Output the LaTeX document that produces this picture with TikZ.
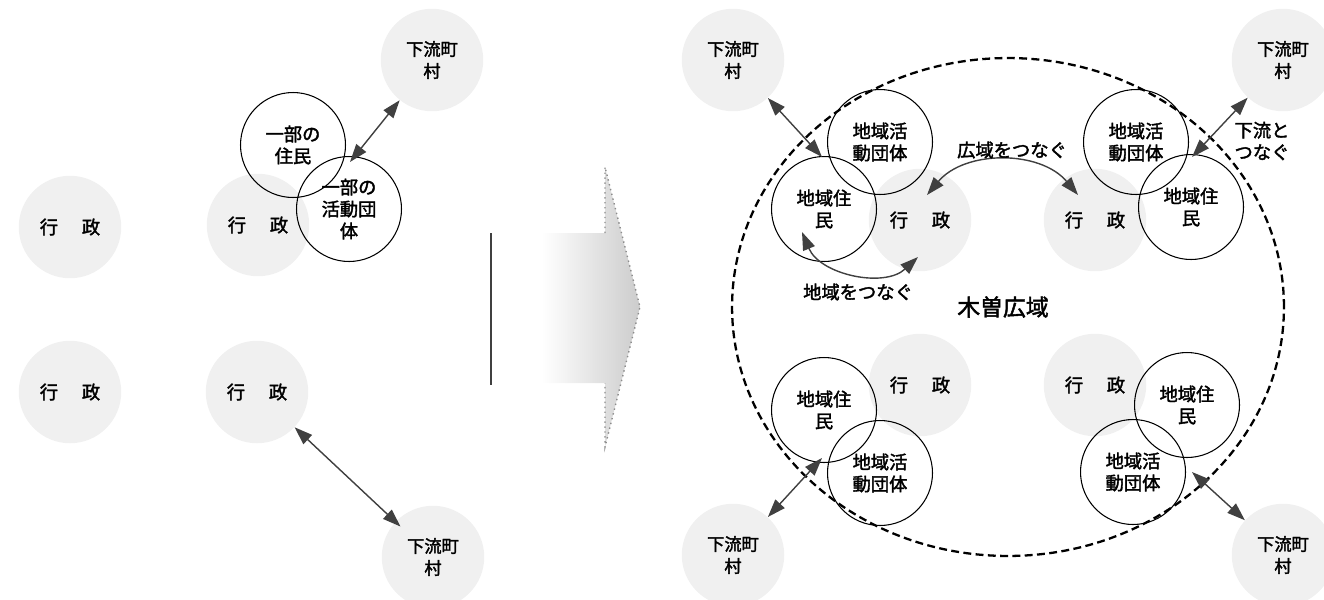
\documentclass[tikz,border=0pt]{standalone}
\usepackage{fontspec}
\newfontfamily\cjk[FakeBold=2]{Noto Sans CJK JP}
\usetikzlibrary{arrows.meta}

\begin{document}
\begin{tikzpicture}[x=0.02cm,y=-0.02cm]
  \tikzstyle{every node}=[font=\cjk\fontsize{10.4}{12.5}\selectfont]
  \tikzstyle{gyosei}=[circle, fill=black!6, minimum size=2.05cm, inner sep=0pt, align=center]
  \tikzstyle{karyu}=[gyosei, font=\cjk\fontsize{9.8}{12.5}\selectfont]
  \tikzstyle{maru}=[circle, draw, line width=0.6pt, minimum size=2.1cm, inner sep=0pt, align=center]
  \tikzstyle{yaji}=[{Triangle[length=3.6mm,width=2.5mm]}-{Triangle[length=3.6mm,width=2.5mm]}, line width=0.8pt, draw=black!75]
  \tikzstyle{moji}=[inner sep=1pt, align=center]

  \useasboundingbox (0,0) rectangle (1324,599);

  \node[gyosei] (gyoseiA) at (70,227) {行\hspace{1.3em}政};
  \node[gyosei] (gyoseiB) at (70,392) {行\hspace{1.3em}政};
  \node[gyosei] (gyoseiC) at (258,225) {行\hspace{1.3em}政};
  \node[gyosei] (gyoseiD) at (257,392) {行\hspace{1.3em}政};
  \node[karyu] (karyuA) at (432,60) {下流町\\村};
  \node[karyu] (karyuB) at (433,557) {下流町\\村};

  \node[maru] (jumin0) at (293,145) {一部の\\住民};
  \node[maru] (dantai0) at (349,209) {一部の\\活動団\\体};
  \coordinate (t0) at (350,162);
  \draw[yaji] (t0) -- (karyuA);
  \draw[yaji, shorten >=-4pt] (gyoseiD) -- (karyuB);

  \draw[line width=1.2pt, black!75] (491,233) -- (491,385);
  \shade[left color=white, right color=black!20] (542,233) -- (605,233) -- (605,167) -- (640,307)
    -- (605,447) -- (605,383) -- (542,383) -- cycle;
  \draw[black!45, line width=0.8pt, dotted] (605,233) -- (605,167) -- (640,307) -- (605,447) -- (605,383);

  \node[gyosei] (gyoseiE) at (920,220) {行\hspace{1.3em}政};
  \node[gyosei] (gyoseiF) at (1095,220) {行\hspace{1.3em}政};
  \node[gyosei] (gyoseiG) at (920,385) {行\hspace{1.3em}政};
  \node[gyosei] (gyoseiH) at (1095,385) {行\hspace{1.3em}政};
  \node[karyu] (karyuC) at (733,60) {下流町\\村};
  \node[karyu] (karyuD) at (1283,60) {下流町\\村};
  \node[karyu] (karyuE) at (733,555) {下流町\\村};
  \node[karyu] (karyuF) at (1283,555) {下流町\\村};

  \draw[line width=1.3pt, dash pattern=on 4.5pt off 2.5pt] (1008,307) ellipse [x radius=5.52cm, y radius=4.98cm];
  \node[font=\cjk\fontsize{13}{15}\selectfont] (kiso) at (1003,307) {木曽広域};

  \node[maru] (jumin1) at (824,209) {地域住\\民};
  \node[maru] (dantai1) at (880,142) {地域活\\動団体};
  \node[maru] (jumin2) at (1191,207) {地域住\\民};
  \node[maru] (dantai2) at (1136,142) {地域活\\動団体};
  \node[maru] (jumin3) at (824,410) {地域住\\民};
  \node[maru] (dantai3) at (880,473) {地域活\\動団体};
  \node[maru] (jumin4) at (1187,405) {地域住\\民};
  \node[maru] (dantai4) at (1133,472) {地域活\\動団体};

  \coordinate (t1) at (822,157);
  \coordinate (t2) at (1192,157);
  \coordinate (t3) at (822,458);
  \coordinate (t4) at (1192,472);
  \draw[yaji] (karyuC) -- (t1);
  \draw[yaji] (karyuD) -- (t2);
  \draw[yaji] (karyuE) -- (t3);
  \draw[yaji] (karyuF) -- (t4);

  \coordinate (kE) at (927,195);
  \coordinate (kF) at (1078,195);
  \draw[yaji] (kE) to[bend left=50] (kF);
  \node[moji] (koiki) at (1012,150) {広域をつなぐ};

  \coordinate (cJ) at (802,232);
  \coordinate (cE) at (918,257);
  \draw[yaji] (cJ) to[bend right=55] (cE);
  \node[moji] (chiiki) at (858,292) {地域をつなぐ};

  \node[moji] (karyuto) at (1262,141) {下流と\\つなぐ};
\end{tikzpicture}
\end{document}
